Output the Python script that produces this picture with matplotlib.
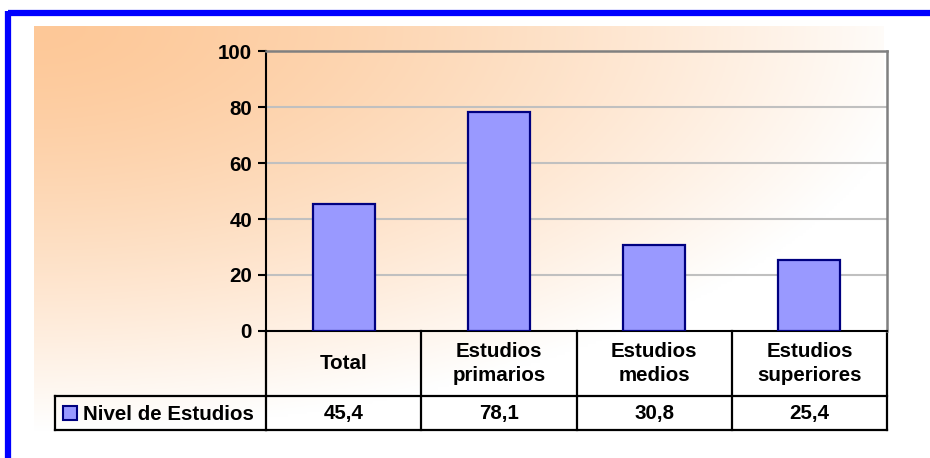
import numpy as np
import matplotlib.pyplot as plt
from matplotlib.transforms import blended_transform_factory
from matplotlib.patches import Rectangle

plt.rcParams['font.family'] = ['Liberation Sans', 'DejaVu Sans']
plt.rcParams['font.weight'] = 'bold'

categorias = ['Total', 'Estudios\nprimarios', 'Estudios\nmedios', 'Estudios\nsuperiores']
valores = [45.4, 78.1, 30.8, 25.4]
serie = 'Nivel de Estudios'
yticks = [0, 20, 40, 60, 80, 100]

W, H = 930, 458
FS = 14.8
fig = plt.figure(figsize=(W / 100, H / 100), dpi=100)

# capa de fondo en coordenadas de pixel (origen arriba a la izquierda)
over = fig.add_axes([0, 0, 1, 1], zorder=0)
over.set_xlim(0, W)
over.set_ylim(H, 0)
over.axis('off')

# degradado naranja -> blanco desde la esquina superior izquierda
gx0, gx1, gy0, gy1 = 34, 883, 26, 432
xx, yy = np.meshgrid(np.linspace(0, 1, 300), np.linspace(0, 1, 150))
t = np.clip(np.sqrt((xx / 1.05) ** 2 + (yy / 1.0) ** 2), 0, 1) ** 1.4
naranja = np.array([253, 200, 152]) / 255
img = naranja[None, None, :] * (1 - t[..., None]) + t[..., None]
over.imshow(img, extent=(gx0, gx1, gy1, gy0), aspect='auto', zorder=0)

# marco azul
over.plot([8, W], [13, 13], color='#0000FF', lw=4.5, solid_capstyle='butt', zorder=5)
over.plot([8, 8], [11, H], color='#0000FF', lw=4.5, solid_capstyle='butt', zorder=5)

# area del grafico
ax = fig.add_axes([266 / W, (H - 331) / H, 621 / W, 280 / H], zorder=2)
ax.patch.set_alpha(0)
x = np.arange(len(valores))
ax.bar(x, valores, width=0.4, color='#9999FF', edgecolor='#000080', linewidth=1.6, zorder=3)
ax.set_xlim(-0.5, len(valores) - 0.5)
ax.set_ylim(0, 100)
ax.set_yticks(yticks)
ax.set_yticklabels([str(v) for v in yticks], fontsize=FS, fontweight='bold')
ax.set_xticks([])
ax.tick_params(axis='y', direction='out', length=6, width=1.5, pad=4)
for v in yticks[1:-1]:
    ax.axhline(v, color='#C0C0C0', lw=1.5, zorder=1)
ax.spines['left'].set_linewidth(1.5)
ax.spines['bottom'].set_linewidth(1.5)
ax.spines['left'].set_color('black')
ax.spines['bottom'].set_color('black')
ax.spines['top'].set_color('#808080')
ax.spines['right'].set_color('#808080')
ax.spines['top'].set_linewidth(1.8)
ax.spines['right'].set_linewidth(1.8)

# tabla de datos bajo el grafico
tr = blended_transform_factory(ax.transData, over.transData)
top, mid, bot = 331, 396, 430
lk = dict(color='black', lw=1.6, zorder=4, solid_capstyle='projecting')
bordes = np.arange(len(valores) + 1) - 0.5
for b in bordes:
    over.plot([b, b], [top, bot], transform=tr, **lk)
over.plot([bordes[0], bordes[-1]], [mid, mid], transform=tr, **lk)
over.plot([bordes[0], bordes[-1]], [bot, bot], transform=tr, **lk)
over.plot([55, 266], [mid, mid], **lk)
over.plot([55, 266], [bot, bot], **lk)
over.plot([55, 55], [mid, bot], **lk)

for i, (c, v) in enumerate(zip(categorias, valores)):
    over.text(i, (top + mid) / 2, c, transform=tr, ha='center', va='center',
              fontsize=FS, fontweight='bold', linespacing=1.35, zorder=6)
    over.text(i, (mid + bot) / 2 + 1, f'{v:.1f}'.replace('.', ','), transform=tr,
              ha='center', va='center', fontsize=FS, fontweight='bold', zorder=6)

over.add_patch(Rectangle((63, 406), 14, 14, facecolor='#9999FF', edgecolor='#000080',
                         lw=1.5, zorder=6))
over.text(83, (mid + bot) / 2 + 1, serie, ha='left', va='center', fontsize=FS,
          fontweight='bold', zorder=6)

fig.savefig('out.png', dpi=100)
